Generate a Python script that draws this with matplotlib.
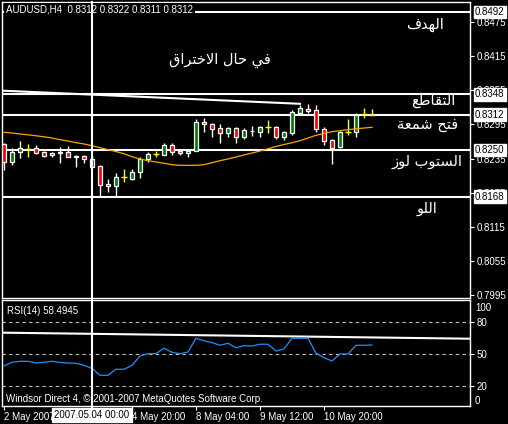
import matplotlib
matplotlib.use('Agg')
import matplotlib.pyplot as plt
import matplotlib.transforms as mtransforms
from matplotlib.lines import Line2D

# AUDUSD H4, bars from 2 May 2007 04:00
opens = [0.8260, 0.8229, 0.8246, 0.8252, 0.8253, 0.8246, 0.8241, 0.8245, 0.8246, 0.8239,
         0.8239, 0.8235, 0.8222, 0.8190, 0.8186, 0.8202, 0.8199, 0.8212, 0.8234, 0.8243,
         0.8242, 0.8259, 0.8248, 0.8244, 0.8249, 0.8299, 0.8295, 0.8288, 0.8280, 0.8288,
         0.8273, 0.8283, 0.8282, 0.8290, 0.8290, 0.8273, 0.8279, 0.8315, 0.8322, 0.8320,
         0.8287, 0.8267, 0.8255, 0.8282, 0.8281, 0.8313, 0.8312]
highs = [0.8263, 0.8253, 0.8266, 0.8261, 0.8259, 0.8248, 0.8247, 0.8256, 0.8257, 0.8241,
         0.8242, 0.8239, 0.8224, 0.8199, 0.8209, 0.8217, 0.8217, 0.8238, 0.8247, 0.8249,
         0.8262, 0.8263, 0.8251, 0.8251, 0.8304, 0.8306, 0.8297, 0.8295, 0.8290, 0.8290,
         0.8288, 0.8292, 0.8292, 0.8303, 0.8292, 0.8283, 0.8320, 0.8329, 0.8331, 0.8329,
         0.8291, 0.8270, 0.8284, 0.8304, 0.8315, 0.8323, 0.8322]
lows = [0.8215, 0.8224, 0.8236, 0.8238, 0.8243, 0.8238, 0.8238, 0.8228, 0.8237, 0.8221,
        0.8227, 0.8218, 0.8169, 0.8177, 0.8169, 0.8193, 0.8197, 0.8201, 0.8229, 0.8238,
        0.8241, 0.8242, 0.8242, 0.8238, 0.8248, 0.8281, 0.8273, 0.8262, 0.8272, 0.8262,
        0.8270, 0.8275, 0.8273, 0.8280, 0.8269, 0.8267, 0.8276, 0.8311, 0.8314, 0.8282,
        0.8259, 0.8225, 0.8254, 0.8276, 0.8273, 0.8306, 0.8311]
closes = [0.8229, 0.8246, 0.8253, 0.8252, 0.8245, 0.8240, 0.8245, 0.8246, 0.8238, 0.8238,
          0.8235, 0.8221, 0.8189, 0.8186, 0.8202, 0.8202, 0.8211, 0.8235, 0.8243, 0.8243,
          0.8259, 0.8247, 0.8244, 0.8248, 0.8299, 0.8295, 0.8287, 0.8280, 0.8288, 0.8273,
          0.8285, 0.8284, 0.8290, 0.8290, 0.8273, 0.8281, 0.8316, 0.8323, 0.8319, 0.8286,
          0.8265, 0.8254, 0.8282, 0.8282, 0.8311, 0.8313, 0.8312]
ma = [0.82810, 0.82798, 0.82780, 0.82766, 0.82749, 0.82731, 0.82710, 0.82680, 0.82657, 0.82628,
      0.82605, 0.82575, 0.82540, 0.82505, 0.82473, 0.82433, 0.82382, 0.82342, 0.82312, 0.82289,
      0.82266, 0.82242, 0.82231, 0.82231, 0.82231, 0.82242, 0.82277, 0.82312, 0.82342, 0.82377,
      0.82412, 0.82447, 0.82482, 0.82521, 0.82561, 0.82596, 0.82626, 0.82663, 0.82710, 0.82757,
      0.82792, 0.82820, 0.82838, 0.82856, 0.82871, 0.82885, 0.82898]
rsi = [38.7, 42.2, 43.1, 43.1, 41.5, 42.2, 43.1, 42.0, 41.5, 41.2,
       39.3, 36.5, 29.9, 29.9, 35.6, 35.6, 39.3, 48.1, 50.3, 50.3,
       55.4, 51.6, 50.3, 51.9, 64.8, 62.5, 60.7, 58.2, 60.1, 55.9,
       57.8, 57.5, 59.2, 59.2, 52.8, 54.7, 64.8, 64.8, 64.8, 50.7,
       46.5, 43.4, 50.0, 50.0, 58.2, 58.2, 58.5]

levels = [0.8492, 0.8348, 0.8312, 0.8250, 0.8168]
price_ticks = [0.8475, 0.8415, 0.8355, 0.8295, 0.8235, 0.8175, 0.8115, 0.8055, 0.7995]
trend_x = [-0.125, 37]
trend_y = [0.8354, 0.8331]
rsi_trend_x = [-0.25, 58.25]
rsi_trend_y = [70.1, 64.4]
date_ticks = [0, 16, 24, 32, 40]
date_labels = ['2 May 2007', '4 May 20:00', '8 May 04:00', '9 May 12:00', '10 May 20:00']
cursor_bar = 11
cursor_label = '2007.05.04 00:00'
notes = [('الهدف', 52.6, 0.8471), ('في حال الاختراق', 27.0, 0.8408),
         ('التقاطع', 53.7, 0.8336), ('فتح شمعة', 52.9, 0.8294),
         ('الستوب لوز', 52.9, 0.8229), ('اللو', 52.9, 0.8148)]

# presentation forms: isolated, final, initial, medial
AR_FORMS = {
    'ا': (0xFE8D, 0xFE8E, None, None), 'ب': (0xFE8F, 0xFE90, 0xFE91, 0xFE92),
    'ة': (0xFE93, 0xFE94, None, None), 'ت': (0xFE95, 0xFE96, 0xFE97, 0xFE98),
    'ح': (0xFEA1, 0xFEA2, 0xFEA3, 0xFEA4), 'خ': (0xFEA5, 0xFEA6, 0xFEA7, 0xFEA8),
    'د': (0xFEA9, 0xFEAA, None, None), 'ر': (0xFEAD, 0xFEAE, None, None),
    'ز': (0xFEAF, 0xFEB0, None, None), 'س': (0xFEB1, 0xFEB2, 0xFEB3, 0xFEB4),
    'ش': (0xFEB5, 0xFEB6, 0xFEB7, 0xFEB8), 'ط': (0xFEC1, 0xFEC2, 0xFEC3, 0xFEC4),
    'ع': (0xFEC9, 0xFECA, 0xFECB, 0xFECC), 'ف': (0xFED1, 0xFED2, 0xFED3, 0xFED4),
    'ق': (0xFED5, 0xFED6, 0xFED7, 0xFED8), 'ل': (0xFEDD, 0xFEDE, 0xFEDF, 0xFEE0),
    'م': (0xFEE1, 0xFEE2, 0xFEE3, 0xFEE4), 'ه': (0xFEE9, 0xFEEA, 0xFEEB, 0xFEEC),
    'و': (0xFEED, 0xFEEE, None, None), 'ي': (0xFEF1, 0xFEF2, 0xFEF3, 0xFEF4),
    '\uFEFB': (0xFEFB, 0xFEFC, None, None),
}


def shape_ar(text):
    # matplotlib has no arabic shaping / bidi, so do a minimal version here
    s = text.replace('لا', '\uFEFB')
    out = []
    for k, ch in enumerate(s):
        if ch not in AR_FORMS:
            out.append(ch)
            continue
        prev = s[k - 1] if k > 0 else ' '
        nxt = s[k + 1] if k + 1 < len(s) else ' '
        iso, fin, ini, med = AR_FORMS[ch]
        join_prev = prev in AR_FORMS and AR_FORMS[prev][2] is not None
        join_next = ini is not None and nxt in AR_FORMS
        if join_prev and join_next:
            g = med
        elif join_prev:
            g = fin
        elif join_next:
            g = ini
        else:
            g = iso
        out.append(chr(g))
    return ''.join(out[::-1])


UI_FONT = 'Liberation Sans'
W, H = 508, 424
fig = plt.figure(figsize=(W / 100, H / 100), dpi=100, facecolor='black')
ax = fig.add_axes([2 / W, (H - 298) / H, 468 / W, 296 / H], facecolor='black')
ax2 = fig.add_axes([2 / W, (H - 406) / H, 468 / W, 106 / H], facecolor='black')

for a in (ax, ax2):
    for sp in a.spines.values():
        sp.set_color('white')
        sp.set_linewidth(1)
    a.set_xlim(-0.25, 58.25)

ax.set_ylim(0.79903, 0.85096)
ax2.set_ylim(0.94, 100.9)

# candles
n = len(opens)
for i in range(n):
    o, h, l, c = opens[i], highs[i], lows[i], closes[i]
    if c == o:
        ax.vlines(i, l, h, color='yellow', lw=1, zorder=3)
        ax.hlines(o, i - 0.32, i + 0.32, color='yellow', lw=1, zorder=3)
        continue
    ax.vlines(i, l, h, color='white', lw=1, zorder=3)
    ax.bar(i, abs(c - o), bottom=min(o, c), width=0.62,
           color='#008000' if c > o else '#FF0000', edgecolor='white', lw=0.9, zorder=4)

ax.plot(range(n), ma, color='#FFA500', lw=0.9, zorder=5)
for lv in levels:
    ax.axhline(lv, color='white', lw=1.5, zorder=2)
ax.plot(trend_x, trend_y, color='white', lw=1.5, zorder=2)

ax.yaxis.tick_right()
ax.set_yticks(price_ticks)
ax.set_yticklabels(['%.4f' % p for p in price_ticks])
ax.tick_params(axis='y', colors='white', length=3, width=0.8, pad=2, labelsize=7)
ax.set_xticks([])
for lab in ax.get_yticklabels():
    lab.set_fontfamily(UI_FONT)

blend = mtransforms.blended_transform_factory(ax.transAxes, ax.transData)
for lv in levels:
    ax.text(1 + 5 / 468, lv, '%.4f' % lv, transform=blend, ha='left', va='center',
            color='black', fontsize=7, fontfamily=UI_FONT, zorder=10, clip_on=False,
            bbox=dict(boxstyle='square,pad=0.15', facecolor='white', edgecolor='white'))

for txt, x, y in notes:
    ax.text(x, y, shape_ar(txt), ha='center', va='center', color='white',
            fontsize=10.5, family=['DejaVu Sans'], zorder=6)

ax.text(4 / 468, 1 - 8 / 296, 'AUDUSD,H4  0.8312 0.8322 0.8311 0.8312', transform=ax.transAxes,
        ha='left', va='center', color='white', fontsize=7, fontfamily=UI_FONT, zorder=9,
        bbox=dict(boxstyle='square,pad=0.2', facecolor='black', edgecolor='none'))

# RSI panel
ax2.plot(range(n), rsi, color='#1E90FF', lw=0.9, zorder=4)
for lv in (80, 50, 20):
    ax2.axhline(lv, color='#C0C0C0', lw=0.8, ls=(0, (3, 3)), zorder=2)
ax2.plot(rsi_trend_x, rsi_trend_y, color='white', lw=1.5, zorder=3)
ax2.yaxis.tick_right()
ax2.set_yticks([80, 50, 20])
ax2.tick_params(axis='y', colors='white', length=3, width=0.8, pad=2, labelsize=7)
ax2.set_xticks(date_ticks)
ax2.set_xticklabels(date_labels, ha='left')
ax2.tick_params(axis='x', colors='white', length=3, width=0.8, pad=1, labelsize=7)
for lab in ax2.get_yticklabels() + ax2.get_xticklabels():
    lab.set_fontfamily(UI_FONT)
ax2.text(1 + 5 / 468, 1 - 8 / 106, '100', transform=ax2.transAxes, ha='left', va='center',
         color='white', fontsize=7, fontfamily=UI_FONT)
ax2.text(1 + 5 / 468, 5 / 106, '0', transform=ax2.transAxes, ha='left', va='center',
         color='white', fontsize=7, fontfamily=UI_FONT)
ax2.text(5 / 468, 1 - 11 / 106, 'RSI(14) 58.4945', transform=ax2.transAxes, ha='left',
         va='center', color='white', fontsize=7, fontfamily=UI_FONT)
ax2.text(4 / 468, 7 / 106, 'Windsor Direct 4, © 2001-2007 MetaQuotes Software Corp.',
         transform=ax2.transAxes, ha='left', va='center', color='white', fontsize=7,
         fontfamily=UI_FONT)

# crosshair through both panels
cx = fig.transFigure.inverted().transform(ax.transData.transform((cursor_bar, 0)))[0]
fig.add_artist(Line2D([cx, cx], [(H - 410) / H, 1 - 2 / H], color='white', lw=1.5, zorder=8))
fig.text(cx, (H - 415) / H, cursor_label, ha='center', va='center', color='black',
         fontsize=7, fontfamily=UI_FONT, zorder=11,
         bbox=dict(boxstyle='square,pad=0.2', facecolor='white', edgecolor='white'))

fig.savefig('out.png', dpi=100, facecolor='black')
